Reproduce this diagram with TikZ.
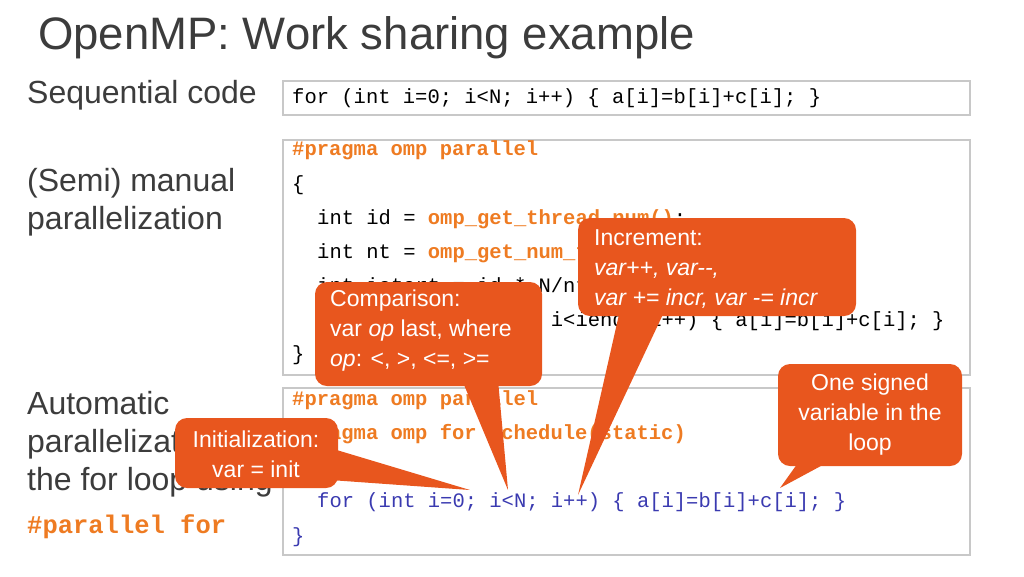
\documentclass[tikz,border=0pt]{standalone}
\usepackage{fontspec}
\setmainfont{Liberation Sans}
\setmonofont{Liberation Mono}
\definecolor{tgray}{HTML}{3C3C3C}
\definecolor{borange}{HTML}{E8561E}
\definecolor{corange}{HTML}{EE7B22}
\definecolor{cblue}{HTML}{3A3AB0}
\definecolor{bgray}{HTML}{C8C8C8}
\begin{document}
\begin{tikzpicture}[x=1pt,y=-1pt,
  lbl/.style={anchor=west,text=tgray,font=\fontsize{32}{38}\selectfont,inner sep=0,align=left},
  code/.style={anchor=west,inner sep=0,font=\fontsize{20.5}{24}\selectfont\ttfamily},
  cbox/.style={draw=bgray,line width=1.2pt},
  call/.style={fill=borange,rounded corners=12pt},
  ctext/.style={text=white,font=\fontsize{23}{30}\selectfont,inner sep=0,align=left}]
\useasboundingbox (0,0) rectangle (1024,576);
\node[anchor=west,text=tgray,font=\fontsize{45.5}{50}\selectfont,inner sep=0] (title) at (38,38) {OpenMP: Work sharing example};
\node[lbl] (seq) at (27,95) {Sequential code};
\node[lbl,anchor=north west] (semi) at (27,168) {(Semi) manual\\parallelization};
\node[lbl,anchor=north west] (auto) at (27,391) {Automatic\\parallelization of\\the for loop using};
\node[code,text=corange,font=\fontsize{25.5}{28}\selectfont\ttfamily\bfseries] (pf) at (27,527) {\#parallel for};
% boxes
\draw[cbox] (283,81) rectangle (970,115);
\draw[cbox] (283,140) rectangle (970,375);
\draw[cbox] (283,388) rectangle (970,555);
\node[code] (s1) at (292,98) {for (int i=0; i<N; i++) \{ a[i]=b[i]+c[i]; \}};
\node[code,text=corange,font=\fontsize{20.5}{24}\selectfont\ttfamily\bfseries] (m1) at (292,150) {\#pragma omp parallel};
\node[code] (m2) at (292,185) {\{};
\node[code] (m3) at (317,219) {int id = \textbf{\textcolor{corange}{omp\_get\_thread\_num()}};};
\node[code] (m4) at (317,253) {int nt = \textbf{\textcolor{corange}{omp\_get\_num\_threads()}};};
\node[code] (m5) at (317,287) {int istart = id * N/nt;};
\node[code] (m6) at (317,321) {for (int i=istart; i<iend; i++) \{ a[i]=b[i]+c[i]; \}};
\node[code] (m7) at (292,355) {\}};
\node[code,text=corange,font=\fontsize{20.5}{24}\selectfont\ttfamily\bfseries] (a1) at (292,400) {\#pragma omp parallel};
\node[code,text=corange,font=\fontsize{20.5}{24}\selectfont\ttfamily\bfseries] (a2) at (292,434) {\#pragma omp for schedule(static)};
\node[code,text=cblue] (a3) at (292,468) {\{};
\node[code,text=cblue] (a4) at (317,502) {for (int i=0; i<N; i++) \{ a[i]=b[i]+c[i]; \}};
\node[code,text=cblue] (a5) at (292,537) {\}};
% callouts
\coordinate (tInc) at (578,495);
\coordinate (tCmp) at (508,490);
\coordinate (tOne) at (780,488);
\coordinate (tIni) at (470,490);
\fill[borange] (620,310) -- (tInc) -- (665,310) -- cycle;
\fill[call] (578,218) rectangle (856,316);
\node[ctext,anchor=north west] (inc) at (594,229) {Increment:\\\textit{var++, var{-}{-},}\\\textit{var += incr, var {-}= incr}};
\fill[borange] (462,380) -- (tCmp) -- (498,380) -- cycle;
\fill[call] (315,282) rectangle (542,386);
\node[ctext,anchor=north west] (cmp) at (330,290) {Comparison:\\var \textit{op} last, where\\\textit{op}: <, >, <=, >=};
\fill[borange] (800,460) -- (tOne) -- (832,460) -- cycle;
\fill[call] (778,364) rectangle (962,466);
\node[ctext,align=center] (one) at (870,415) {One signed\\variable in the\\loop};
\fill[borange] (330,448) -- (tIni) -- (330,480) -- cycle;
\fill[call] (175,418) rectangle (338,488);
\node[ctext,align=center] (ini) at (256,454) {Initialization:\\var = init};
\end{tikzpicture}
\end{document}
